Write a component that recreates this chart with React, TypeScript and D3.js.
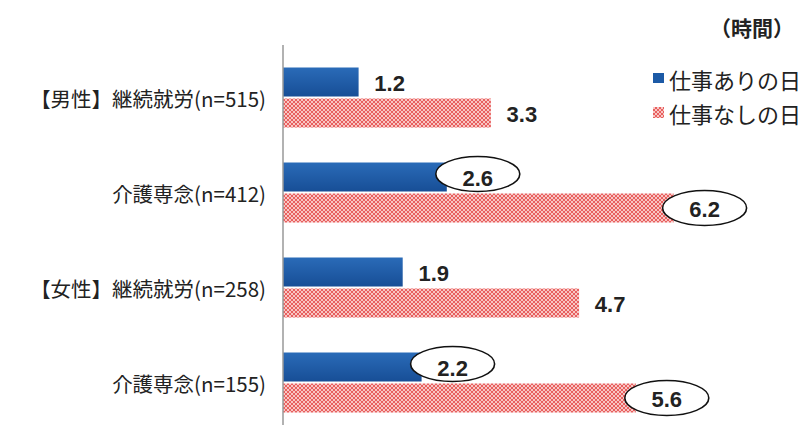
import React from "react";
import * as d3 from "d3";

const categories = ["【男性】継続就労(n=515)", "介護専念(n=412)", "【女性】継続就労(n=258)", "介護専念(n=155)"];
const seriesNames = ["仕事ありの日", "仕事なしの日"];
const workDay = [1.2, 2.6, 1.9, 2.2];
const offDay = [3.3, 6.2, 4.7, 5.6];
const circled = [false, true, false, true];
const unitLabel = "（時間）";

const W = 803;
const H = 425;
const BLUE = "#1c5aa6";
const JP = "'Noto Sans CJK JP', 'Noto Sans', sans-serif";
const NUM = "'Liberation Sans', Arial, sans-serif";

export default function App() {
  const x = d3.scaleLinear().domain([0, 8]).range([283, 283 + 8 * 63]);
  const y = d3.scaleBand<string>().domain(categories).range([50, 430]);
  const barH = 29;
  const gap = 2;

  return (
    <svg width={W} height={H} style={{ position: "absolute", left: 0, top: 0, background: "#fff" }}>
      <defs>
        <pattern id="hatch" width="4" height="4" patternUnits="userSpaceOnUse">
          <rect width="4" height="4" fill="#f8c6c4" />
          <path d="M0,0 L4,4 M4,0 L0,4" stroke="#e8605f" strokeWidth="1" />
        </pattern>
        <linearGradient id="blueg" x1="0" y1="0" x2="0" y2="1">
          <stop offset="0" stopColor="#2a6bb8" />
          <stop offset="1" stopColor="#174e96" />
        </linearGradient>
      </defs>

      {categories.map((c, i) => {
        const cy = (y(c) as number) + y.bandwidth() / 2;
        const y1 = cy - gap / 2 - barH;
        const y2 = cy + gap / 2;
        const vals = [workDay[i], offDay[i]];
        return (
          <g key={c}>
            <text x={266} y={cy} textAnchor="end" dominantBaseline="central" fontFamily={JP} fontSize={20.5} fill="#222">
              {c}
            </text>
            <rect x={x(0)} y={y1} width={x(workDay[i]) - x(0)} height={barH} fill="url(#blueg)" />
            <rect x={x(0)} y={y2} width={x(offDay[i]) - x(0)} height={barH} fill="url(#hatch)" />
            {vals.map((v, k) => {
              const by = (k === 0 ? y1 : y2) + barH / 2;
              const lx = x(v) + 31;
              return (
                <g key={k}>
                  {circled[i] && (
                    <ellipse cx={lx} cy={by - (k === 0 ? 3 : 0)} rx={42} ry={17.5} fill="#fff" stroke="#111" strokeWidth={1.6} />
                  )}
                  <text x={lx} y={by + 1} textAnchor="middle" dominantBaseline="central" fontFamily={NUM} fontWeight="bold" fontSize={22} fill="#222">
                    {v.toFixed(1)}
                  </text>
                </g>
              );
            })}
          </g>
        );
      })}

      <line x1={x(0)} x2={x(0)} y1={45} y2={H} stroke="#999" strokeWidth={1.5} />

      <text x={794} y={27} textAnchor="end" dominantBaseline="central" fontFamily={JP} fontWeight="bold" fontSize={21} fill="#222">
        {unitLabel}
      </text>

      <g>
        <rect x={653} y={73} width={11} height={10} fill={BLUE} />
        <text x={669} y={79} dominantBaseline="central" fontFamily={JP} fontSize={22} fill="#222">
          {seriesNames[0]}
        </text>
        <rect x={653} y={107} width={11} height={11} fill="url(#hatch)" />
        <text x={669} y={113} dominantBaseline="central" fontFamily={JP} fontSize={22} fill="#222">
          {seriesNames[1]}
        </text>
      </g>
    </svg>
  );
}
